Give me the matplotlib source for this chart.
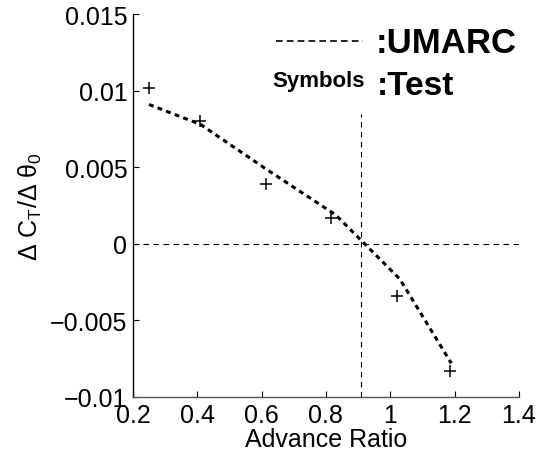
import matplotlib
matplotlib.use('Agg')
import matplotlib.pyplot as plt

plt.rcParams['font.family'] = ['Liberation Sans', 'DejaVu Sans']
plt.rcParams['mathtext.fontset'] = 'custom'
plt.rcParams['mathtext.rm'] = 'Liberation Sans'
plt.rcParams['mathtext.it'] = 'Liberation Sans'
plt.rcParams['mathtext.bf'] = 'Liberation Sans:bold'

# Test data (symbols)
test_mu = [0.25, 0.41, 0.615, 0.815, 1.02, 1.185]
test_dct = [0.0102, 0.0080, 0.0039, 0.0017, -0.0034, -0.0083]

# UMARC prediction (dashed line)
umarc_mu = [0.25, 0.41, 0.62, 0.83, 1.03, 1.19]
umarc_dct = [0.0091, 0.0078, 0.0048, 0.0019, -0.0023, -0.0078]

# reference lines
zero_cross_mu = 0.91
vline_top = 0.0085

xticks = [0.2, 0.4, 0.6, 0.8, 1.0, 1.2, 1.4]
xticklabels = ['0.2', '0.4', '0.6', '0.8', '1', '1.2', '1.4']
yticks = [-0.01, -0.005, 0, 0.005, 0.01, 0.015]
yticklabels = ['\u22120.01', '\u22120.005', '0', '0.005', '0.01', '0.015']

fig = plt.figure(figsize=(5.36, 4.52), dpi=100)
ax = fig.add_axes([0.248, 0.1195, 0.72, 0.847])

ax.axhline(0, color='black', lw=0.8, ls=(0, (5, 4)))
ax.plot([zero_cross_mu, zero_cross_mu], [-0.01, vline_top], color='black', lw=0.8, ls=(0, (5, 4)))

ax.plot(umarc_mu, umarc_dct, color='black', lw=2.2, ls=(0, (1.6, 1.4)))
ax.plot(test_mu, test_dct, ls='none', marker='+', color='black', ms=8, mew=1.1)

# legend-like annotations
ax.plot([0.645, 0.915], [0.01324, 0.01324], color='black', lw=1.2, ls=(0, (4, 2.5)))
ax.text(0.955, 0.0125, ':UMARC', fontsize=25, fontweight='bold', va='baseline', ha='left')
ax.text(0.632, 0.0103, 'Symbols', fontsize=16, fontweight='bold', va='baseline', ha='left')
ax.text(0.958, 0.0098, ':Test', fontsize=24, fontweight='bold', va='baseline', ha='left')

ax.set_xlim(0.2, 1.4)
ax.set_ylim(-0.01, 0.015)
ax.set_xticks(xticks)
ax.set_xticklabels(xticklabels)
ax.set_yticks(yticks)
ax.set_yticklabels(yticklabels)
ax.tick_params(direction='in', length=4, width=0.8, labelsize=18, pad=4)

for s in ['top', 'right']:
    ax.spines[s].set_visible(False)
ax.spines['left'].set_linewidth(1.0)
ax.spines['bottom'].set_linewidth(1.0)
ax.spines['bottom'].set_color('#555555')

ax.set_xlabel('Advance Ratio', fontsize=18, labelpad=0)
ax.set_ylabel(r'$\Delta\ C_T/\Delta\ \theta_0$', fontsize=18, labelpad=4)

fig.savefig('out.png', dpi=100)
